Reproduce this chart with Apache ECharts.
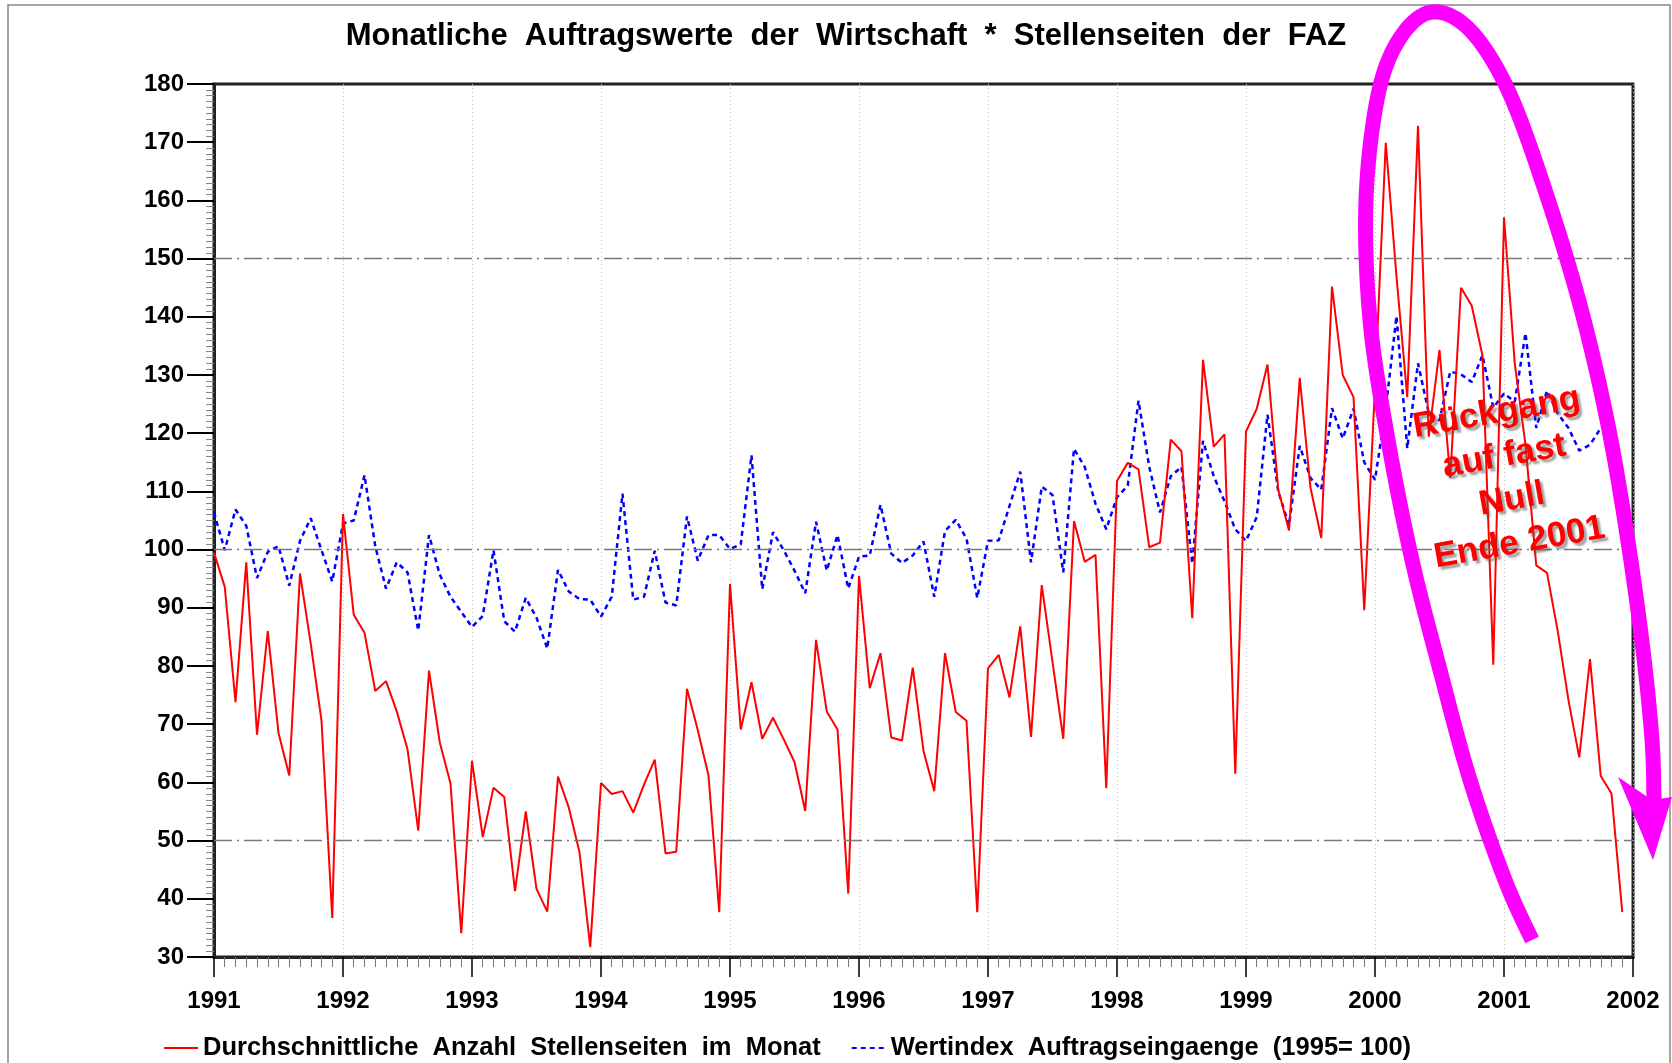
<!DOCTYPE html>
<html>
<head>
<meta charset="utf-8">
<script src="https://cdn.jsdelivr.net/npm/echarts@6/dist/echarts.min.js"></script>
<style>
  html, body { margin: 0; padding: 0; background: #fff; }
  #chart { width: 1672px; height: 1063px; }
</style>
</head>
<body>
<div id="chart"></div>
<script>
// Monatswerte Jan 1991 - Dez 2001
const startYear = 1991;
const yearTicks = [1991, 1992, 1993, 1994, 1995, 1996, 1997, 1998, 1999, 2000, 2001, 2002];
const stellenseiten = [
  99.5, 93.6, 73.8, 97.8, 68.2, 86, 68.5, 61.2, 95.9, 83.8, 70.6, 36.7,
  106.1, 88.8, 85.7, 75.7, 77.4, 72.2, 65.7, 51.7, 79.2, 66.9, 59.8, 34.1,
  63.7, 50.6, 59.1, 57.5, 41.3, 55, 41.7, 37.8, 61, 55.7, 48, 31.7,
  59.9, 58, 58.5, 54.8, 59.6, 63.9, 47.8, 48.1, 76.1, 69, 61.2, 37.7,
  94.1, 69.1, 77.2, 67.5, 71.1, 67.4, 63.5, 55.1, 84.5, 72.2, 69.1, 40.9,
  95.5, 76.2, 82.2, 67.7, 67.2, 79.7, 65.4, 58.5, 82.2, 72.1, 70.6, 37.7,
  79.6, 81.9, 74.6, 86.8, 67.8, 93.9, 80.7, 67.5, 104.9, 97.9, 99.1, 59,
  111.8, 114.9, 113.8, 100.4, 101.2, 118.9, 116.9, 88.2, 132.6, 117.7, 119.8, 61.5,
  120.3, 124.2, 131.8, 110.3, 103.3, 129.5, 110.6, 102, 145.2, 130, 126.2, 89.6,
  128, 169.9, 146.9, 126.2, 172.8, 119.4, 134.3, 112.3, 145, 141.9, 133.3, 80.2,
  157.1, 132, 118, 97.3, 96, 86, 74.1, 64.3, 81.2, 61.1, 58.1, 37.7
];
const wertindex = [
  106.4, 99.9, 106.9, 104.1, 95.1, 99.6, 100.6, 93.8, 101.5, 105.4, 99.9, 94.5,
  104.5, 105, 112.8, 100.6, 93.3, 97.8, 96.1, 86.1, 102.5, 95.7, 91.9, 89.3,
  86.7, 88.6, 99.9, 87.7, 85.9, 91.7, 88.3, 83, 96.5, 92.8, 91.5, 91.4,
  88.5, 91.9, 109.6, 91.4, 91.9, 99.8, 90.9, 90.4, 105.7, 98.1, 102.5, 102.5,
  100.1, 100.9, 116.2, 93.2, 103, 99.9, 96.4, 92.5, 104.8, 96.4, 102.5, 93.3,
  98.8, 99, 107.7, 99.3, 97.7, 99, 101.4, 91.9, 103.2, 105.1, 101.9, 91.7,
  101.5, 101.6, 107.5, 113.4, 97.8, 110.8, 109.4, 96.1, 117.3, 114.2, 107.9, 103.5,
  109, 111, 125.6, 114.2, 106.4, 112.6, 114.2, 97.6, 118.7, 112.6, 108.3, 103.5,
  101.5, 105.6, 123.2, 110, 104.2, 117.8, 112.3, 110.3, 124.3, 119.1, 124.2, 115,
  112, 124.2, 140.1, 117.4, 132, 123.5, 122.2, 130.6, 130.1, 128.8, 133.4, 124.4,
  126.8, 125.4, 137.2, 120.9, 127.3, 123.4, 120.9, 117, 118, 120.9, 121.9, 112.6
];
const refLines = [50, 100, 150];

const toPoints = arr => arr.map((v, i) => [startYear + i / 12, v]);

const font = '"Liberation Sans", Arial, sans-serif';
const chart = echarts.init(document.getElementById('chart'));

// Ellipse-Pfeil (Anmerkung) - Stuetzpunkte, als Catmull-Rom-Kurve abgetastet
const arcPoints = [
  [1532, 940], [1505, 880], [1470, 780], [1440, 670], [1412, 560],
  [1388, 440], [1370, 320], [1366, 200], [1378, 95], [1400, 38], [1432, 12],
  [1470, 30], [1508, 90], [1545, 190], [1580, 305], [1607, 420],
  [1627, 535], [1643, 650], [1652, 740], [1654, 800]
];
function sampleCurve(pts, steps) {
  const out = [pts[0]];
  for (let i = 0; i < pts.length - 1; i++) {
    const p0 = pts[i - 1] || pts[i];
    const p1 = pts[i];
    const p2 = pts[i + 1];
    const p3 = pts[i + 2] || p2;
    for (let s = 1; s <= steps; s++) {
      const t = s / steps, t2 = t * t, t3 = t2 * t;
      const f = k => 0.5 * ((2 * p1[k]) + (-p0[k] + p2[k]) * t +
        (2 * p0[k] - 5 * p1[k] + 4 * p2[k] - p3[k]) * t2 +
        (-p0[k] + 3 * p1[k] - 3 * p2[k] + p3[k]) * t3);
      out.push([f(0), f(1)]);
    }
  }
  return out;
}

const option = {
  animation: false,
  title: {
    text: 'Monatliche  Auftragswerte  der  Wirtschaft  *  Stellenseiten  der  FAZ',
    left: 841,
    top: 16,
    textAlign: 'center',
    textStyle: { fontFamily: font, fontSize: 31, fontWeight: 'bold', color: '#000' }
  },
  legend: {
    left: 158,
    top: 1030,
    itemWidth: 34,
    itemHeight: 14,
    itemGap: 30,
    itemStyle: { opacity: 0 },
    textStyle: { fontFamily: font, fontSize: 25.5, fontWeight: 'bold', color: '#000' },
    data: ['Durchschnittliche  Anzahl  Stellenseiten  im  Monat', 'Wertindex  Auftragseingaenge  (1995= 100)']
  },
  grid: {
    left: 214, right: 39, top: 84, bottom: 106,
    show: true, borderColor: '#222', borderWidth: 3
  },
  xAxis: {
    type: 'value',
    min: 1991, max: 2002, interval: 1,
    axisLine: { show: true, lineStyle: { color: '#222', width: 3 } },
    axisTick: { show: true, length: 20, lineStyle: { color: '#000', width: 1.5 } },
    minorTick: { show: true, splitNumber: 12, length: 10, lineStyle: { color: '#777', width: 1 } },
    axisLabel: {
      margin: 32, fontFamily: font, fontSize: 24, fontWeight: 'bold', color: '#000',
      formatter: v => (yearTicks.indexOf(v) >= 0 ? String(v) : '')
    },
    splitLine: { show: true, lineStyle: { color: '#c4c4c4', type: [1, 3], width: 1 } }
  },
  yAxis: {
    type: 'value',
    min: 30, max: 180, interval: 10,
    axisLine: { show: true, lineStyle: { color: '#222', width: 3 } },
    axisTick: { show: true, length: 27, lineStyle: { color: '#000', width: 2 } },
    minorTick: { show: true, splitNumber: 10, length: 8, lineStyle: { color: '#888', width: 1 } },
    axisLabel: { margin: 30, fontFamily: font, fontSize: 24, fontWeight: 'bold', color: '#000' },
    splitLine: { show: false }
  },
  series: [
    {
      name: 'Durchschnittliche  Anzahl  Stellenseiten  im  Monat',
      type: 'line',
      data: toPoints(stellenseiten),
      symbol: 'none',
      z: 3,
      lineStyle: { color: '#ff0000', width: 2 },
      itemStyle: { color: '#ff0000' },
      markLine: {
        silent: true,
        symbol: 'none',
        label: { show: false },
        lineStyle: { color: '#777', type: [18, 5, 2, 5], width: 1.3 },
        data: refLines.map(v => ({ yAxis: v }))
      }
    },
    {
      name: 'Wertindex  Auftragseingaenge  (1995= 100)',
      type: 'line',
      data: toPoints(wertindex),
      symbol: 'none',
      z: 2,
      lineStyle: { color: '#0000ff', width: 2.5, type: [5, 4] },
      itemStyle: { color: '#0000ff' }
    }
  ],
  graphic: [
    {
      type: 'rect',
      shape: { x: 8, y: 5, width: 1662, height: 1080 },
      style: { fill: 'none', stroke: '#888', lineWidth: 1.5 },
      z: 0, silent: true
    },
    {
      type: 'polyline',
      shape: { points: sampleCurve(arcPoints, 12) },
      style: { fill: 'none', stroke: '#ff00ff', lineWidth: 15, lineCap: 'butt', lineJoin: 'round' },
      z: 100, silent: true
    },
    {
      type: 'polygon',
      shape: { points: [[1618, 777], [1652, 800], [1672, 797], [1653, 860]] },
      style: { fill: '#ff00ff' },
      z: 100, silent: true
    },
    {
      type: 'text',
      x: 1508, y: 478,
      rotation: 10 * Math.PI / 180,
      style: {
        text: 'Rückgang\nauf fast\nNull\nEnde 2001',
        fill: '#ff0000',
        font: 'bold 35px ' + font,
        lineHeight: 44,
        align: 'center',
        verticalAlign: 'middle',
        textShadowColor: 'rgba(90,90,90,0.55)',
        textShadowOffsetX: 3,
        textShadowOffsetY: 3,
        textShadowBlur: 2
      },
      z: 101, silent: true
    }
  ]
};

chart.setOption(option);
</script>
</body>
</html>
